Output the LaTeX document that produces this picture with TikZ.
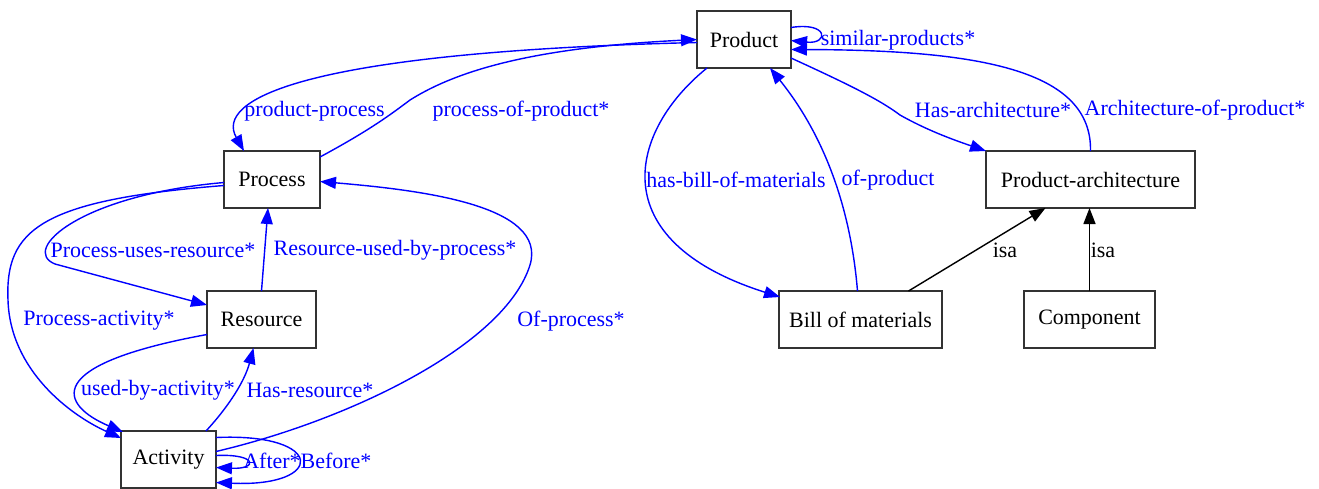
\documentclass[tikz,border=0pt]{standalone}
\usepackage{fontspec}
\setmainfont{Liberation Serif}
\usetikzlibrary{arrows.meta}
\usetikzlibrary{calc,positioning}

\begin{document}
\begin{tikzpicture}[x=0.02cm,y=-0.02cm]
    \def\boxHeight{1.14cm}
    \def\edgeWidth{0.8pt}

    \tikzstyle{cls}=[draw=black!80,line width=1pt,outer sep=0pt,inner sep=0pt,minimum height=\boxHeight,font=\fontsize{12.5}{14}\selectfont]
    \tikzstyle{rel}=[blue,line width=\edgeWidth,-{Triangle[length=0.32cm,width=0.24cm]}]
    \tikzstyle{isa}=[black,line width=\edgeWidth,-{Triangle[length=0.32cm,width=0.24cm]}]
    \tikzstyle{lbl}=[text=blue,inner sep=0pt,font=\fontsize{12.5}{14}\selectfont]
    \tikzstyle{isalbl}=[lbl,text=black]

    % Frame
    \useasboundingbox[fill=white] (0,0) rectangle (1319,488);

    % Classes
    \node[cls,minimum width=1.88cm] (prod) at (744,39.5) {Product};
    \node[cls,minimum width=1.92cm] (proc) at (272,179.5) {Process};
    \node[cls,minimum width=2.18cm] (res) at (261.5,319.5) {Resource};
    \node[cls,minimum width=1.90cm] (act) at (168.5,459.5) {Activity};
    \node[cls,minimum width=4.18cm] (parch) at (1090.5,179.5) {Product-architecture};
    \node[cls,minimum width=3.26cm] (bom) at (860.5,319.5) {Bill of materials};
    \node[cls,minimum width=2.62cm] (comp) at (1089.5,319.5) {Component};

    % Product and process
    \draw[rel] ($(prod.west)+(0,3)$) .. controls (300,52) and (215,100) .. ($(proc.north)+(-28,0)$);
    \draw[rel] ($(proc.north east)+(0,6)$) .. controls (370,130) and (390,115) .. (410,100)
        .. controls (450,75) and (520,48) .. ($(prod.west)+(0,0)$);
    \draw[rel] ($(prod.east)+(0,-12)$) .. controls +(38,-6) and +(38,4) .. ($(prod.east)+(0,1)$);
    \node[lbl] (l-pp) at (314.5,111) {product-process};
    \node[lbl] (l-pop) at (521,111) {process-of-product*};
    \node[lbl] (l-sim) at (898,40) {similar-products*};

    % Bill of materials and architecture
    \draw[rel] ($(prod.south west)+(10,0)$) .. controls (630,130) and (600,240) .. ($(bom.north west)+(1,6)$);
    \draw[rel] ($(bom.north)+(-3,0)$) .. controls (850,200) and (820,130) .. ($(prod.south east)+(-21,0)$);
    \draw[rel] ($(prod.south east)+(0,-10)$) .. controls (850,85) and (880,100) .. (900,115)
        .. controls (930,132) and (960,142) .. (parch.north west);
    \draw[rel] (parch.north) .. controls (1092,70) and (980,50) .. ($(prod.east)+(0,10)$);
    \draw[isa] ($(bom.north)+(48,0)$) -- ($(parch.south)+(-45,0)$);
    \draw[isa] (comp.north) -- (comp.north |- parch.south);
    \node[lbl] (l-hbom) at (736,180) {has-bill-of-materials};
    \node[lbl] (l-op) at (888,180) {of-product};
    \node[lbl] (l-ha) at (993,110) {Has-architecture*};
    \node[lbl] (l-aop) at (1195,110) {Architecture-of-product*};
    \node[isalbl] (l-isa1) at (1005,250) {isa};
    \node[isalbl] (l-isa2) at (1103,250) {isa};

    % Process, resource and activity
    \draw[rel] ($(proc.west)+(0,3)$) .. controls (80,195) and (20,250) .. (55,264) -- ($(res.north west)+(0,14)$);
    \draw[rel] (res.north) -- ($(proc.south)+(-4,0)$);
    \draw[rel] ($(proc.west)+(0,6)$) .. controls (40,200) and (5,230) .. (8,300)
        .. controls (10,370) and (70,415) .. ($(act.north west)+(0,7)$);
    \draw[rel] ($(res.west)+(0,15)$) .. controls (40,365) and (60,405) .. ($(act.north west)+(2,1)$);
    \draw[rel] ($(act.north east)+(-10,0)$) .. controls (230,405) and (245,380) .. ($(res.south)+(-8,0)$);
    \draw[rel] ($(act.east)+(0,-8)$) .. controls (350,420) and (505,345) .. (530,265)
        .. controls (548,205) and (420,190) .. ($(proc.east)+(0,2)$);
    \draw[rel] ($(act.east)+(0,-4)$) .. controls +(42,-2) and +(42,2) .. ($(act.east)+(0,8)$);
    \draw[rel] ($(act.east)+(0,-22)$) .. controls +(110,-5) and +(110,5) .. ($(act.east)+(0,23)$);
    \node[lbl] (l-pur) at (153,250) {Process-uses-resource*};
    \node[lbl] (l-rup) at (395,250) {Resource-used-by-process*};
    \node[lbl] (l-pa) at (99,321) {Process-activity*};
    \node[lbl] (l-of) at (571,321) {Of-process*};
    \node[lbl] (l-uba) at (158,390) {used-by-activity*};
    \node[lbl] (l-hr) at (310,390) {Has-resource*};
    \node[lbl] (l-after) at (272,461) {After*};
    \node[lbl] (l-before) at (336,461) {Before*};
\end{tikzpicture}
\end{document}
